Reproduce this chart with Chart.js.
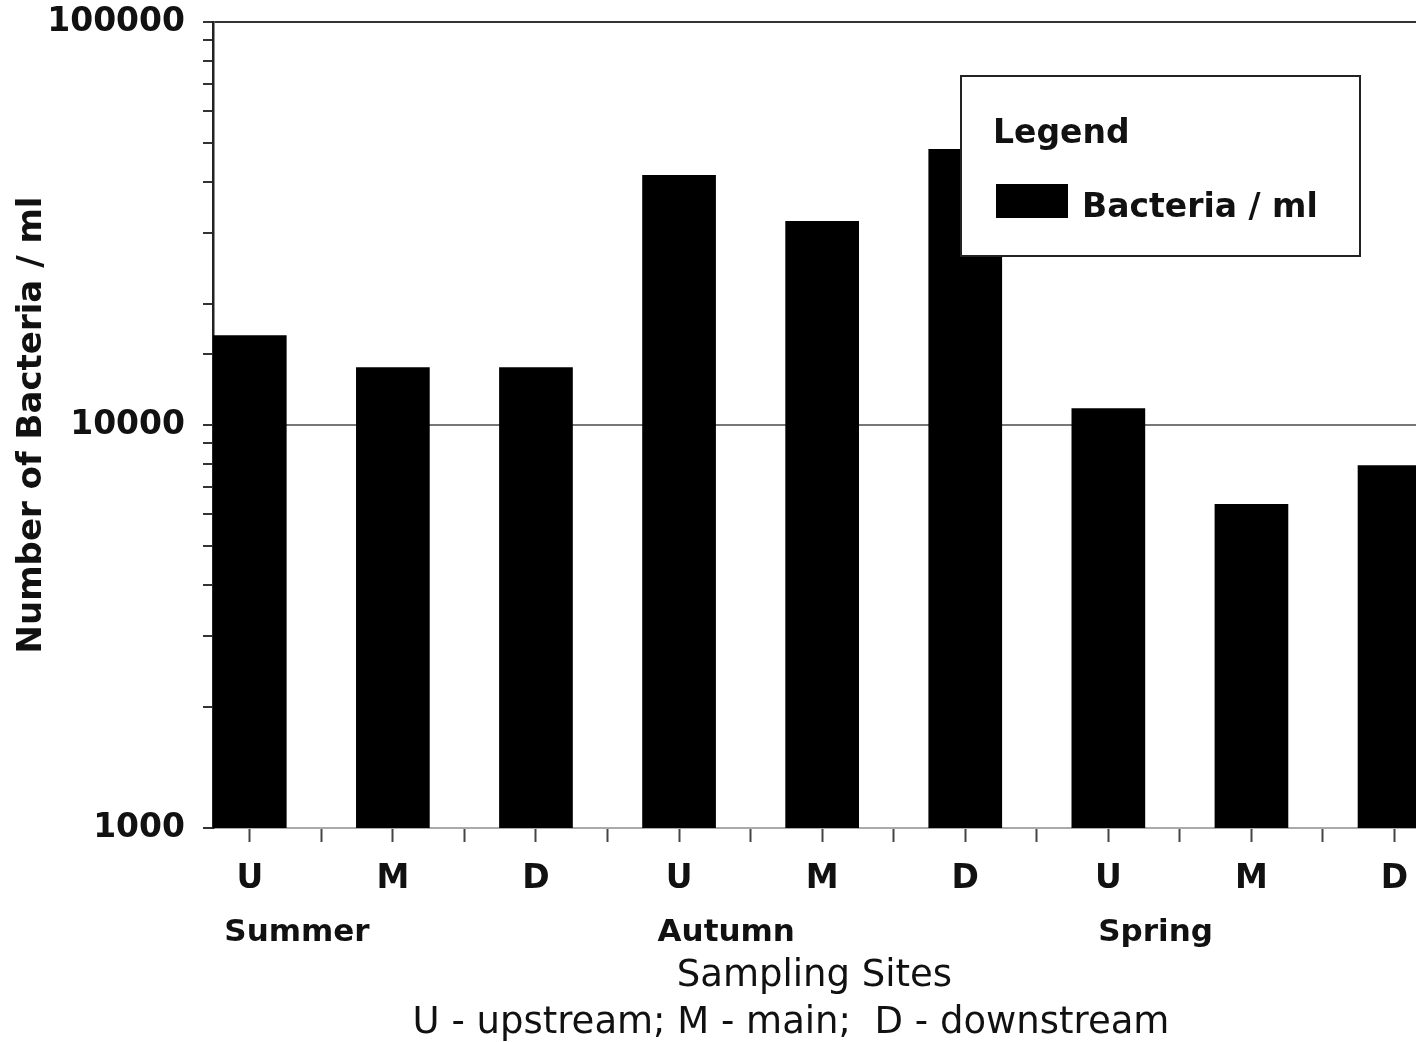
<!DOCTYPE html>
<html>
<head>
<meta charset="utf-8">
<script src="https://cdn.jsdelivr.net/npm/chart.js@4"></script>
<style>
  html, body { margin: 0; padding: 0; background: #fff; overflow: hidden; }
</style>
</head>
<body>
<canvas id="graph-bacteria" width="1416" height="1042"></canvas>
<script>
// sites along the x axis, grouped by season
const sites = ["U", "M", "D", "U", "M", "D", "U", "M", "D"];
const seasons = ["Summer", "Autumn", "Spring"];
const bacteriaPerMl = [16700, 13900, 13900, 41700, 32100, 48400, 11000, 6370, 7950];
const yTickLabels = [1000, 10000, 100000];

const FAMILY = "'DejaVu Sans', sans-serif";
const SEASON_OFFSET = 0.33; // season label sits a bit right of its U bar
const X_MIN = -0.257;
const X_MAX = 8.15;

const isLabelled = (v) => yTickLabels.includes(Math.round(v));

// draws the boxed "Legend" panel over the bars
const legendBox = {
  id: "legendBox",
  afterDraw(chart) {
    const { ctx, chartArea } = chart;
    const ds = chart.data.datasets[0];
    const x = chartArea.left + 748;
    const y = chartArea.top + 54;
    ctx.save();
    ctx.fillStyle = "#fff";
    ctx.fillRect(x, y, 399, 180);
    ctx.strokeStyle = "#222";
    ctx.lineWidth = 2;
    ctx.strokeRect(x, y, 399, 180);
    ctx.fillStyle = "#111";
    ctx.font = `bold 33px ${FAMILY}`;
    ctx.textBaseline = "middle";
    ctx.fillText("Legend", x + 32, y + 58);
    ctx.fillStyle = ds.backgroundColor;
    ctx.fillRect(x + 35, y + 108, 72, 34);
    ctx.fillStyle = "#111";
    ctx.fillText(ds.label, x + 121, y + 132);
    ctx.restore();
  },
};

// labels may hang past the plot edges, like the original
const noEdgePadding = (scale) => {
  scale.paddingTop = 0;
  scale.paddingBottom = 0;
  scale.paddingLeft = 0;
  scale.paddingRight = 0;
};

new Chart(document.getElementById("graph-bacteria"), {
  type: "bar",
  data: {
    datasets: [
      {
        label: "Bacteria / ml",
        data: bacteriaPerMl.map((v, i) => ({ x: i, y: v })),
        backgroundColor: "#000",
        borderWidth: 0,
        categoryPercentage: 1,
        // width is measured against the half-step tick spacing
        barPercentage: 1.03,
      },
    ],
  },
  options: {
    responsive: false,
    animation: false,
    layout: { padding: { top: 22, right: 0, bottom: 0, left: 0 } },
    plugins: {
      legend: { display: false },
      tooltip: { enabled: false },
    },
    scales: {
      x: {
        type: "linear",
        position: "bottom",
        offset: false,
        min: X_MIN,
        max: X_MAX,
        afterBuildTicks: (scale) => {
          const ticks = [];
          sites.forEach((s, i) => {
            ticks.push({ value: i });
            if (i < sites.length - 1) ticks.push({ value: i + 0.5 });
          });
          scale.ticks = ticks;
        },
        afterFit: (scale) => {
          scale.height = 72;
          noEdgePadding(scale);
        },
        ticks: {
          autoSkip: false,
          maxRotation: 0,
          padding: 18,
          color: "#111",
          font: { family: FAMILY, size: 33, weight: "bold" },
          callback: (value) => (Number.isInteger(value) ? sites[value] : ""),
        },
        grid: {
          drawOnChartArea: false,
          offset: false,
          tickLength: 14,
          tickWidth: 2,
          tickColor: "#444",
        },
        border: { color: "#aaa", width: 2 },
      },
      season: {
        type: "linear",
        position: "bottom",
        offset: false,
        min: X_MIN,
        max: X_MAX,
        afterBuildTicks: (scale) => {
          scale.ticks = seasons.map((s, i) => ({ value: i * 3 + SEASON_OFFSET }));
        },
        afterFit: (scale) => {
          scale.height = 142;
          noEdgePadding(scale);
        },
        ticks: {
          autoSkip: false,
          maxRotation: 0,
          padding: 6,
          color: "#111",
          font: { family: FAMILY, size: 31, weight: "bold" },
          callback: (value, index) => seasons[index],
        },
        grid: { display: false, offset: false },
        border: { display: false },
        title: {
          display: true,
          text: ["Sampling Sites", "U - upstream; M - main;  D - downstream    "],
          color: "#111",
          font: { family: FAMILY, size: 37, lineHeight: 1.27 },
          padding: { top: 0, bottom: -5 },
        },
      },
      y: {
        type: "logarithmic",
        min: 1000,
        max: 100000,
        afterFit: (scale) => {
          scale.width = 213;
          noEdgePadding(scale);
        },
        ticks: {
          autoSkip: false,
          padding: 18,
          color: "#111",
          font: { family: FAMILY, size: 33, weight: "bold" },
          callback: (value) => (isLabelled(value) ? String(value) : ""),
        },
        grid: {
          lineWidth: 2,
          tickLength: 10,
          tickColor: "#333",
          color: (ctx) => {
            if (!ctx.tick) return "transparent";
            const v = Math.round(ctx.tick.value);
            if (v === 100000) return "#333";
            if (v === 10000) return "#777";
            return "transparent";
          },
        },
        border: { color: "#222", width: 2.5 },
        title: {
          display: true,
          text: "Number of Bacteria / ml",
          color: "#111",
          font: { family: FAMILY, size: 34, weight: "bold" },
          padding: { top: 12, bottom: 0 },
        },
      },
    },
  },
  plugins: [legendBox],
});
</script>
</body>
</html>
